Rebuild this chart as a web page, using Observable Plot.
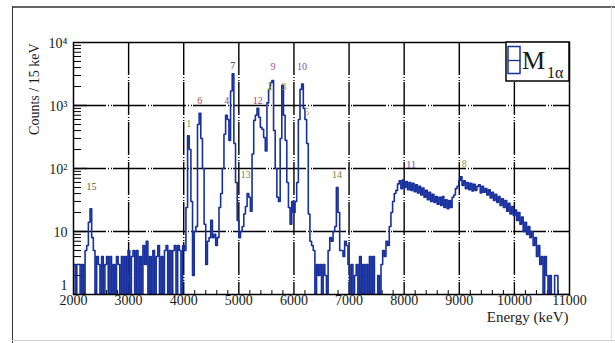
<!DOCTYPE html>
<html>
<head>
<meta charset="utf-8">
<script src="https://cdn.jsdelivr.net/npm/d3@7"></script>
<script src="https://cdn.jsdelivr.net/npm/@observablehq/plot@0.6"></script>
<style>
  body { margin: 0; background: #fff; }
  #chart { width: 615px; height: 343px; }
</style>
</head>
<body>
<div id="chart"></div>
<script>
// Spectrum binning
const binStart = 2000;   // keV
const binWidth = 30;     // keV

// Counts per bin, 2000–3980 keV
const countsLow = [
  3,1,3,3,1,3,1,
  5,6,14,23,8,
  5,1,4,3,1,4,1,3,4,1,
  4,1,3,1,4,3,1,4,1,4,
  1,5,1,4,5,1,5,1,4,1,
  6,3,7,1,4,1,5,1,4,6,
  1,4,1,5,6,1,5,1,5,6,
  1,6,5,1,6
];
// Counts per bin, 4010–6980 keV (the discrete lines)
const countsPeaks = [
  5,24,330,200,30,2,10,12,500,750,
  300,100,13,3,7,8,15,8,9,6,
  8,24,40,100,350,700,600,280,1700,3200,
  250,60,15,8,10,12,19,25,40,35,
  21,170,580,700,900,650,450,420,310,190,
  1100,1800,2300,2500,400,100,35,30,300,2100,
  700,280,60,24,13,30,20,30,60,600,
  1800,2200,900,600,250,19,7,6,5,1,
  3,2,3,1,3,2,1,5,8,7,
  10,12,50,20,5,5,4,7,6,3
];
// Counts per bin, 7010–10970 keV (continuum)
const countsHigh = [
  1,3,1,2,3,1,4,1,3,1,
  3,1,4,1,4,1,1,2,1,3,
  5,4,7,6,12,20,30,40,45,57,
  64,48,66,50,62,46,60,45,58,43,
  55,41,52,38,49,35,45,32,42,30,
  39,29,36,27,35,26,36,24,32,23,
  31,24,35,38,48,52,64,74,54,64,
  48,60,46,58,44,56,45,52,55,41,
  52,42,48,38,46,34,42,31,39,29,
  36,26,33,24,31,21,28,19,25,18,
  22,15,20,13,17,10,14,9,12,8,
  10,6,8,4,6,3,4,1,4,2,
  1,2,1,1,2,2,1,1,1,1,
  1,1,1
];

// Peak identifiers: energy (keV) and the count level the tag sits at
const peakIds     = ["15","1","6","4","7","12","9","2","3","10","5","13","14","11","8"];
const peakEnergy  = [2327,4091,4291,4782,4891,5345,5618,5564,5818,6145,6236,5127,6782,8127,9091];
const peakLevel   = [52,518,1200,1200,4300,1200,4150,2000,2000,4150,800,80,80,116,120];
const peakColors  = ["#6e5c2c","#3fb34a","#a0485a","#94408c","#444444","#a04080","#b0509a",
                     "#c0ac2c","#a89a30","#7050b0","#b0a040","#8a7a30","#8a7a30","#7a3e9e","#86a040"];

// Axis ticks
const xTicks  = [2000,3000,4000,5000,6000,7000,8000,9000,10000,11000];
const yTicks  = [10,100,1000,10000];
const yTickLabels = ["10","10\u00b2","10\u00b3","10\u2074"];

const counts = countsLow.concat(countsPeaks, countsHigh);
const bins = counts.map((c, i) => ({e: binStart + binWidth * i, c: Math.max(c, 1)}));
bins.push({e: binStart + binWidth * counts.length, c: bins[bins.length - 1].c});

const xMinor = d3.range(2200, 11000, 200).filter(v => v % 1000 !== 0);
const yMinor = [1, 10, 100, 1000].flatMap(d => d3.range(2, 10).map(k => k * d));
const xInner = xTicks.slice(1, -1);
const yInner = [10, 100, 1000];

const serif = "'Liberation Serif', 'Times New Roman', serif";
const ink = "#1a1a1a";
const blue = "#18309e";
const dash = "33,2,1,2,1,1";

const chart = Plot.plot({
  width: 615,
  height: 343,
  marginLeft: 73,
  marginRight: 46,
  marginTop: 42,
  marginBottom: 49,
  style: {fontFamily: serif, background: "#fff", color: ink},
  x: {domain: [2000, 11000], axis: null},
  y: {type: "log", domain: [1, 10000], axis: null},
  marks: [
    // dashed grid
    Plot.ruleX(xInner, {stroke: "#000", strokeWidth: 1.4, strokeDasharray: dash}),
    Plot.ruleY(yInner, {stroke: "#000", strokeWidth: 1.4, strokeDasharray: dash}),
    // ticks drawn inside the frame
    Plot.ruleX(xMinor, {stroke: "#000", strokeWidth: 1, insetTop: 248}),
    Plot.ruleY(yMinor, {stroke: "#000", strokeWidth: 1, insetRight: 488}),
    Plot.ruleY(yInner, {stroke: "#000", strokeWidth: 1.4, insetRight: 482}),
    // histogram outline
    Plot.line(bins, {x: "e", y: "c", curve: "step-after", stroke: blue, strokeWidth: 1.6, clip: true}),
    Plot.frame({stroke: "#000", strokeWidth: 1.5}),
    // peak tags
    Plot.text(peakIds, {
      x: (d, i) => peakEnergy[i], y: (d, i) => peakLevel[i], text: d => d,
      fill: (d, i) => peakColors[i], fontSize: 10
    }),
    // tick labels
    Plot.text(xTicks, {x: d => d, frameAnchor: "bottom", dy: 10.5, text: d => String(d), fontSize: 14, fill: ink}),
    Plot.text(yTicks, {y: d => d, frameAnchor: "left", dx: -6, dy: 1, textAnchor: "end",
      text: (d, i) => yTickLabels[i], fontSize: 14, fill: ink}),
    Plot.text([1], {y: d => d, frameAnchor: "left", dx: -6, dy: -9, textAnchor: "end", text: () => "1", fontSize: 14, fill: ink}),
    // axis titles
    Plot.text(["Energy (keV)"], {frameAnchor: "bottom-right", dx: -1, dy: 27.5, textAnchor: "end", text: d => d, fontSize: 15, fill: ink}),
    Plot.text(["Counts / 15 keV"], {frameAnchor: "top-left", dx: -44, dy: 1, rotate: -90, textAnchor: "end", text: d => d, fontSize: 14, fill: ink})
  ]
});

document.getElementById("chart").appendChild(chart);

// page border and legend box
const svg = d3.select(chart);
const deco = svg.append("g");
deco.append("line").attr("x1", 12).attr("x2", 615).attr("y1", 7).attr("y2", 7).attr("stroke", "#333").attr("stroke-width", 1.5);
deco.append("line").attr("x1", 12.5).attr("x2", 12.5).attr("y1", 6).attr("y2", 343).attr("stroke", "#333").attr("stroke-width", 1);
deco.append("line").attr("x1", 12).attr("x2", 615).attr("y1", 340.5).attr("y2", 340.5).attr("stroke", "#cfcfcf").attr("stroke-width", 1);
deco.append("line").attr("x1", 611.5).attr("x2", 611.5).attr("y1", 7).attr("y2", 341).attr("stroke", "#e2e2e2").attr("stroke-width", 1);

const leg = svg.append("g").attr("font-family", serif).attr("fill", ink);
leg.append("rect").attr("x", 506).attr("y", 42).attr("width", 63).attr("height", 39)
  .attr("fill", "#fff").attr("stroke", "#000").attr("stroke-width", 1.5);
leg.append("rect").attr("x", 508).attr("y", 46.5).attr("width", 12).attr("height", 27)
  .attr("fill", "#fff").attr("stroke", blue).attr("stroke-width", 1.5);
leg.append("line").attr("x1", 508).attr("x2", 520).attr("y1", 60.5).attr("y2", 60.5)
  .attr("stroke", blue).attr("stroke-width", 1.3);
leg.append("text").attr("x", 522).attr("y", 68.5).attr("font-size", 26).attr("text-anchor", "start").text("M");
leg.append("text").attr("x", 547).attr("y", 77.5).attr("font-size", 16).attr("text-anchor", "start").text("1\u03b1");
</script>
</body>
</html>
